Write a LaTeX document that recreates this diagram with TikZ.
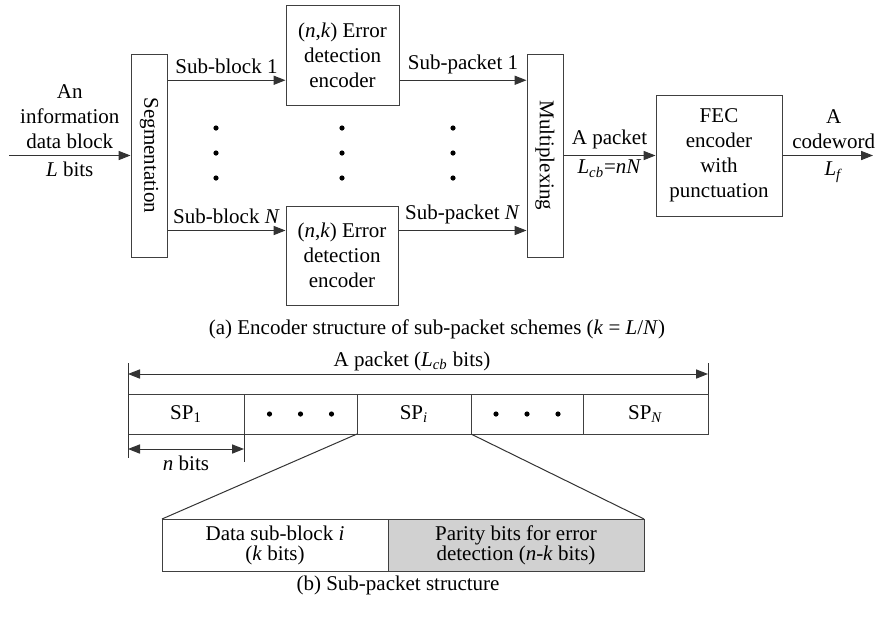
\documentclass[tikz,border=0pt]{standalone}
\usepackage{fontspec}
\setmainfont{Liberation Serif}
\usepackage{tikz}
\usetikzlibrary{positioning, arrows.meta, calc}
\newcommand{\figfont}{\fontsize{10.5}{12.5}\selectfont}
\tikzset{
    block/.style    = {draw=black!75, line width=0.5pt, align=center, inner sep=0pt,
                       font=\figfont},
    tallbox/.style  = {block, minimum width=18pt, minimum height=101.5pt},
    cell/.style     = {block, minimum height=20pt, outer sep=0pt},
    link/.style     = {-{Triangle[length=6pt, width=4.6pt]}, draw=black!80, line width=0.5pt},
    dimline/.style  = {{Triangle[length=6pt, width=4.6pt]}-{Triangle[length=6pt, width=4.6pt]},
                       draw=black!80, line width=0.5pt},
    tick/.style     = {draw=black!80, line width=0.5pt},
    lbl/.style      = {font=\figfont, align=center, inner sep=3pt},
    caption/.style  = {font=\figfont, inner sep=0pt}
}

\begin{document}
\begin{tikzpicture}[x=0.5pt, y=-0.5pt]
        \useasboundingbox (0,0) rectangle (875,618);

        % (a) encoder structure
        \node[tallbox] (seg) at (149,155.5) {\rotatebox{-90}{Segmentation}};
        \node[tallbox] (mux) at (545,155.5) {\rotatebox{-90}{Multiplexing}};
        \node[block, minimum width=56.5pt, minimum height=50pt] (enc1) at (342.5,55)
            {(\textit{n},\textit{k}) Error\\detection\\encoder};
        \node[block, minimum width=56pt, minimum height=49.5pt] (encN) at (342,255.5)
            {(\textit{n},\textit{k}) Error\\detection\\encoder};
        \node[block, minimum width=63pt, minimum height=60.5pt] (fec) at (719,155.5)
            {FEC\\encoder\\with\\punctuation};

        \coordinate (src) at (9,155.5);
        \coordinate (dst) at (873,155.5);
        \coordinate (e1i) at ($(enc1.south west)!0.25!(enc1.north west)$);
        \coordinate (e1o) at ($(enc1.south east)!0.25!(enc1.north east)$);
        \coordinate (eNi) at ($(encN.north west)!0.25!(encN.south west)$);
        \coordinate (eNo) at ($(encN.north east)!0.25!(encN.south east)$);

        \draw[link] (src) -- (seg.west)
            node[lbl, midway, above] (inA) {An\\information\\data block}
            node[lbl, midway, below] (inB) {\textit{L} bits};
        \draw[link] (seg.east |- e1i) -- (e1i)
            node[lbl, midway, above] (sb1) {Sub-block 1};
        \draw[link] (seg.east |- eNi) -- (eNi)
            node[lbl, midway, above] (sbN) {Sub-block \textit{N}};
        \draw[link] (e1o) -- (mux.west |- e1o)
            node[lbl, midway, above] (sp1l) {Sub-packet 1};
        \draw[link] (eNo) -- (mux.west |- eNo)
            node[lbl, midway, above] (spNl) {Sub-packet \textit{N}};
        \draw[link] (mux.east) -- (fec.west)
            node[lbl, midway, above] (pkA) {A packet}
            node[lbl, midway, below, inner sep=2pt] (pkB)
                {\textit{L}\textsubscript{\textit{cb}}=\textit{nN}};
        \draw[link] (fec.east) -- (dst)
            node[lbl, midway, above, xshift=3pt] (cwA) {A\\codeword}
            node[lbl, midway, below, xshift=3pt] (cwB) {\textit{L}\textsubscript{\textit{f}}};

        \foreach \x in {216,342,453}
            \foreach \y in {128,153,178}
                \fill[black] (\x,\y) circle (1.3pt);

        \node[caption] (capa) at (437,329)
            {(a) Encoder structure of sub-packet schemes (\textit{k} = \textit{L}/\textit{N})};

        % (b) sub-packet structure
        \node[cell, minimum width=58pt, anchor=west] (sp1) at (128,414) {SP\textsubscript{1}};
        \node[cell, minimum width=56.5pt, right=0pt of sp1] (dt1) {};
        \node[cell, minimum width=57pt, right=0pt of dt1] (spi) {SP\textsubscript{\textit{i}}};
        \node[cell, minimum width=56pt, right=0pt of spi] (dt2) {};
        \node[cell, minimum width=62.5pt, right=0pt of dt2] (spn) {SP\textsubscript{\textit{N}}};

        \foreach \n in {dt1,dt2}
            \foreach \dx in {-15.5pt,0pt,15.5pt}
                \fill[black] ([xshift=\dx]\n.center) circle (1.3pt);

        \draw[dimline] ([yshift=10pt]sp1.north west) -- ([yshift=10pt]spn.north east)
            node[lbl, midway, above, inner sep=1.5pt, xshift=-3pt] (pkt)
                {A packet (\textit{L}\textsubscript{\textit{cb}} bits)};
        \draw[tick] ([yshift=15.5pt]sp1.north west) -- ([yshift=-12pt]sp1.south west);
        \draw[tick] ([yshift=15.5pt]spn.north east) -- (spn.north east);
        \draw[tick] (sp1.south east) -- ([yshift=-14pt]sp1.south east);
        \draw[dimline] ([yshift=-7.5pt]sp1.south west) -- ([yshift=-7.5pt]sp1.south east)
            node[lbl, midway, below] (nb) {\textit{n} bits};

        \node[cell, minimum width=113pt, minimum height=26pt, anchor=west,
              font=\fontsize{10.5}{10}\selectfont] (data) at (162,545)
            {Data sub-block \textit{i}\\(\textit{k} bits)};
        \node[cell, minimum width=128pt, minimum height=26pt, fill=black!18,
              font=\fontsize{10.5}{10}\selectfont, right=0pt of data] (parity)
            {Parity bits for error\\detection (\textit{n}-\textit{k} bits)};

        \draw[tick] (spi.south west) -- (data.north west);
        \draw[tick] (spi.south east) -- (parity.north east);

        \node[caption] (capb) at (398,585) {(b) Sub-packet structure};
    \end{tikzpicture}
\end{document}
